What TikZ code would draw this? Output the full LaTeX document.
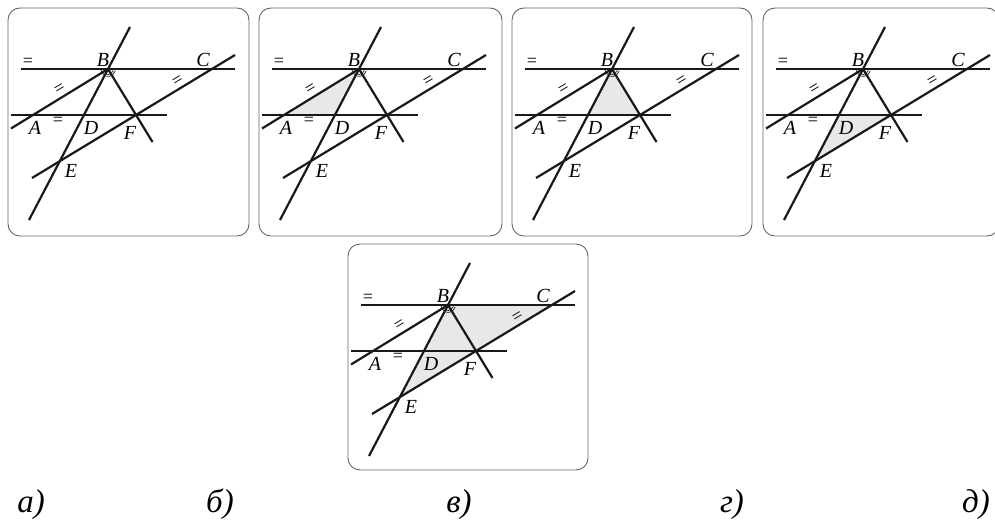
\documentclass[tikz,border=0pt]{standalone}
\usepackage{fontspec}
\setmainfont{Liberation Serif}
\tikzset{
 panelbox/.style={draw=black!60, line width=0.9pt, rounded corners=12pt},
 geo/.style={line width=2.2pt, draw=black!90},
 shadefill/.style={fill=black!9},
 ptlabel/.style={font=\fontsize{20}{20}\selectfont\itshape, inner sep=0pt},
 eqmark/.style={font=\fontsize{18}{18}\selectfont, inner sep=0pt},
 anglemark/.style={line width=0.7pt, draw=black!90},
 caption/.style={font=\fontsize{33}{33}\selectfont\itshape, inner sep=0pt, anchor=base},
}
\newcommand\geopanel[6]{%
 \begin{scope}[shift={(#2,-#3)}]
  \coordinate (#1B) at (100,-61);
  \coordinate (#1C) at (204,-61);
  \coordinate (#1A) at (25,-107);
  \coordinate (#1D) at (76,-107);
  \coordinate (#1F) at (128,-107);
  \coordinate (#1E) at (52,-153);
  \coordinate (#1T1) at (13,-61);
  \coordinate (#1T2) at (227,-61);
  \coordinate (#1M1) at (3,-107);
  \coordinate (#1M2) at (159,-107);
  \coordinate (#1S1) at (122,-19);
  \coordinate (#1S2) at (21,-212);
  \coordinate (#1R1) at (24,-170);
  \coordinate (#1R2) at (227,-47);
  \coordinate (#1Q1) at (3,-120.5);
  \coordinate (#1G) at (144.5,-134);
  \draw[panelbox] (0,0) rectangle (#4,-#5);
  \fill[shadefill] #6;
  \draw[geo] (#1T1) -- (#1T2);
  \draw[geo] (#1M1) -- (#1M2);
  \draw[geo] (#1S1) -- (#1S2);
  \draw[geo] (#1R1) -- (#1R2);
  \draw[geo] (#1Q1) -- (#1B);
  \draw[geo] (#1B) -- (#1G);
  \draw[anglemark] ([shift={(188:7)}]#1B) arc[start angle=188, end angle=238, radius=7];
  \draw[anglemark] ([shift={(246:5.5)}]#1B) arc[start angle=246, end angle=345, radius=5.5];
  \draw[anglemark] ([shift={(250:7.5)}]#1B) arc[start angle=250, end angle=345, radius=7.5];
  \node[ptlabel] (#1lB) at (95,-52) {B};
  \node[ptlabel] (#1lC) at (195,-52) {C};
  \node[ptlabel] (#1lA) at (27,-120) {A};
  \node[ptlabel] (#1lD) at (83,-120) {D};
  \node[ptlabel] (#1lF) at (122,-125) {F};
  \node[ptlabel] (#1lE) at (63,-163) {E};
  \node[eqmark] (#1q1) at (20,-54) {=};
  \node[eqmark] (#1q2) at (50,-113) {=};
  \node[eqmark, rotate=31] (#1q3) at (52,-81) {=};
  \node[eqmark, rotate=31] (#1q4) at (170,-73) {=};
 \end{scope}}
\begin{document}
\begin{tikzpicture}[x=1pt,y=1pt]
\useasboundingbox (0,0) rectangle (995,-519);
\begin{scope}
\clip (0,0) rectangle (995,-519);
\geopanel{a}{8}{8}{241}{228}{}
\geopanel{b}{259}{8}{243}{228}{(bA) -- (bB) -- (bD) -- cycle}
\geopanel{c}{512}{8}{240}{228}{(cB) -- (cD) -- (cF) -- cycle}
\geopanel{d}{763}{8}{236}{228}{(dD) -- (dE) -- (dF) -- cycle}
\geopanel{e}{348}{244}{240}{226}{(eB) -- (eC) -- (eE) -- cycle}
\end{scope}
\node[caption] (capa) at (31,-512) {а)};
\node[caption] (capb) at (220,-512) {б)};
\node[caption] (capc) at (459,-512) {в)};
\node[caption] (capd) at (732,-512) {г)};
\node[caption] (cape) at (976,-512) {д)};
\end{tikzpicture}
\end{document}
